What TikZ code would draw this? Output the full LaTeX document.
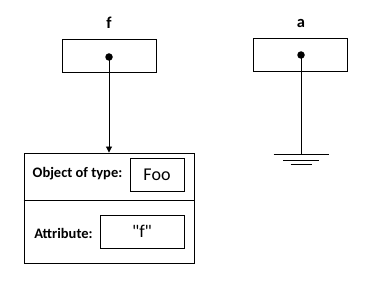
\documentclass[tikz,border=0pt]{standalone}
\usepackage{fontspec}
\setmainfont{Carlito}
\usetikzlibrary{arrows.meta}
\begin{document}
\begin{tikzpicture}[x=1pt,y=-1pt,line width=0.9pt,
        varbox/.style={draw,inner sep=0pt,minimum width=94pt,minimum height=33pt},
        valbox/.style={draw,inner sep=0pt,minimum height=33pt,font=\fontsize{18}{20}\selectfont},
        dot/.style={circle,fill,inner sep=0pt,minimum size=7.5pt},
        varname/.style={font=\bfseries\fontsize{16.5}{18}\selectfont},
        field/.style={font=\bfseries\fontsize{14.5}{17}\selectfont}]
        \useasboundingbox (0,0) rectangle (372,286);
        \node[varname] (fname) at (109,23) {f};
        \node[varname] (aname) at (301,23) {a};
        \node[varbox] (fbox) at (109,55.5) {};
        \node[varbox] (abox) at (300,54.5) {};
        \node[dot] (fdot) at (109,57) {};
        \node[dot] (adot) at (301,55) {};
        \node[draw,inner sep=0pt,minimum width=170pt,minimum height=110pt] (obj) at (109,208) {};
        \draw (obj.west |- 0,200) -- (obj.east |- 0,200);
        \node[valbox,minimum width=54pt] (typebox) at (157,174.5) {Foo};
        \node[field] (typelbl) at (77.5,174) {Object of type:};
        \node[valbox,minimum width=84pt] (attrbox) at (142,231.5) {\textquotedbl f\textquotedbl};
        \node[field] (attrlbl) at (63.5,233) {Attribute:};
        \draw[-{Triangle[length=6pt,width=6pt]}] (fdot.center) -- (obj.north);
        \coordinate (gnd) at (301,154);
        \draw (adot.center) -- (gnd);
        \foreach \w/\y in {27.5/0,18/6,10.5/10} {
            \draw ([shift={(-\w,\y)}]gnd) -- ([shift={(\w,\y)}]gnd);
        }
    \end{tikzpicture}
\end{document}
